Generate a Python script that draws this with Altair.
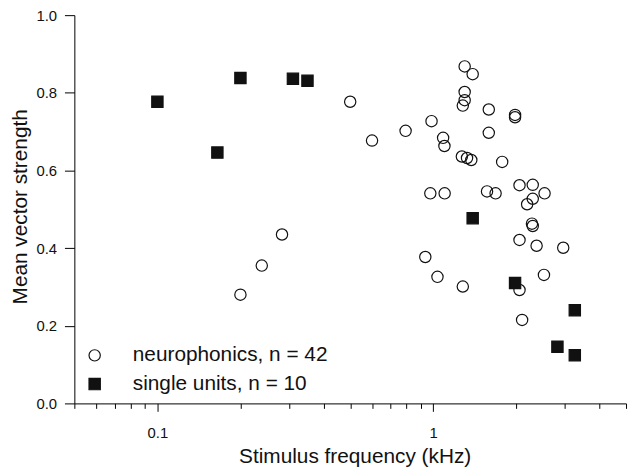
import altair as alt
import pandas as pd

series_names = ["neurophonics, n = 42", "single units, n = 10"]

neuro_freq = [0.200, 0.239, 0.283, 0.50, 0.60, 0.794, 0.986, 1.086, 1.098, 1.30,
              1.39, 1.30, 1.30, 1.28, 1.59, 1.98, 1.98, 1.59, 1.27, 1.326,
              1.374, 1.778, 0.976, 1.10, 1.567, 1.683, 2.055, 2.295, 2.533, 2.295,
              2.19, 2.28, 2.295, 2.055, 2.37, 2.96, 0.936, 1.036, 1.28, 2.52,
              2.055, 2.10]
neuro_vs = [0.280, 0.355, 0.435, 0.777, 0.677, 0.702, 0.727, 0.684, 0.663, 0.868,
            0.848, 0.802, 0.781, 0.767, 0.757, 0.743, 0.737, 0.697, 0.636, 0.632,
            0.627, 0.622, 0.541, 0.541, 0.546, 0.541, 0.562, 0.563, 0.541, 0.527,
            0.513, 0.463, 0.457, 0.421, 0.406, 0.401, 0.377, 0.326, 0.301, 0.331,
            0.292, 0.215]

single_freq = [0.10, 0.165, 0.20, 0.31, 0.35, 1.39, 1.98, 3.26, 2.82, 3.26]
single_vs = [0.777, 0.646, 0.838, 0.836, 0.831, 0.477, 0.310, 0.240, 0.146, 0.124]

x_ticks = [0.05, 0.06, 0.07, 0.08, 0.09, 0.1, 0.2, 0.3, 0.4, 0.5, 0.6, 0.7,
           0.8, 0.9, 1, 2, 3, 4, 5]
x_labelled = [0.1, 1]
y_ticks = [0.0, 0.2, 0.4, 0.6, 0.8, 1.0]

df = pd.DataFrame({
    "freq": neuro_freq + single_freq,
    "vs": neuro_vs + single_vs,
    "series": [series_names[0]] * len(neuro_freq) + [series_names[1]] * len(single_freq),
})

FONT = "Liberation Sans"
INK = "#111111"

legend = alt.Legend(
    title=None,
    orient="none",
    legendX=10,
    legendY=333,
    padding=0,
    symbolSize=130,
    symbolStrokeColor=INK,
    symbolStrokeWidth=1.2,
    labelFont=FONT,
    labelFontSize=21,
    labelColor=INK,
    labelLimit=0,
    labelOffset=28,
    rowPadding=7,
)

x_test = " || ".join(f"datum.value == {v}" for v in x_labelled)

chart = alt.Chart(df).mark_point(
    filled=True, opacity=1, strokeWidth=1.2, size=130
).encode(
    x=alt.X(
        "freq:Q",
        scale=alt.Scale(type="log", domain=[0.05, 5], nice=False),
        axis=alt.Axis(
            values=x_ticks,
            format="~g",
            labelExpr=f"({x_test}) ? datum.label : ''",
            title="Stimulus frequency (kHz)",
            tickSize={"condition": {"test": x_test, "value": 8}, "value": 5},
            labelPadding=14,
            titleX=283,
            titleY=60,
            titleAnchor="middle",
            titleBaseline="alphabetic",
        ),
    ),
    y=alt.Y(
        "vs:Q",
        scale=alt.Scale(domain=[0, 1], nice=False, zero=False),
        axis=alt.Axis(
            values=y_ticks,
            format=".1f",
            title="Mean vector strength",
            tickSize=10,
            labelPadding=8,
            titleX=-48,
            titleY=193,
            titleAnchor="middle",
            titleBaseline="alphabetic",
        ),
    ),
    shape=alt.Shape("series:N", scale=alt.Scale(domain=series_names, range=["circle", "square"]), legend=legend),
    fill=alt.Fill("series:N", scale=alt.Scale(domain=series_names, range=["transparent", INK]), legend=legend),
    stroke=alt.Stroke("series:N", scale=alt.Scale(domain=series_names, range=[INK, INK]), legend=legend),
).properties(
    width=557,
    height=392,
    autosize=alt.AutoSizeParams(type="none"),
    padding={"left": 67, "top": 5, "right": 3, "bottom": 63},
).configure_view(
    stroke="transparent"
).configure_axis(
    grid=False,
    domainColor="#000000",
    domainWidth=1,
    tickColor="#000000",
    tickWidth=1,
    labelFont=FONT,
    labelFontSize=15,
    labelColor=INK,
    titleFont=FONT,
    titleFontSize=21,
    titleFontWeight="normal",
    titleColor=INK,
)

chart.save("out.html", embed_options={"renderer": "svg", "actions": False})
